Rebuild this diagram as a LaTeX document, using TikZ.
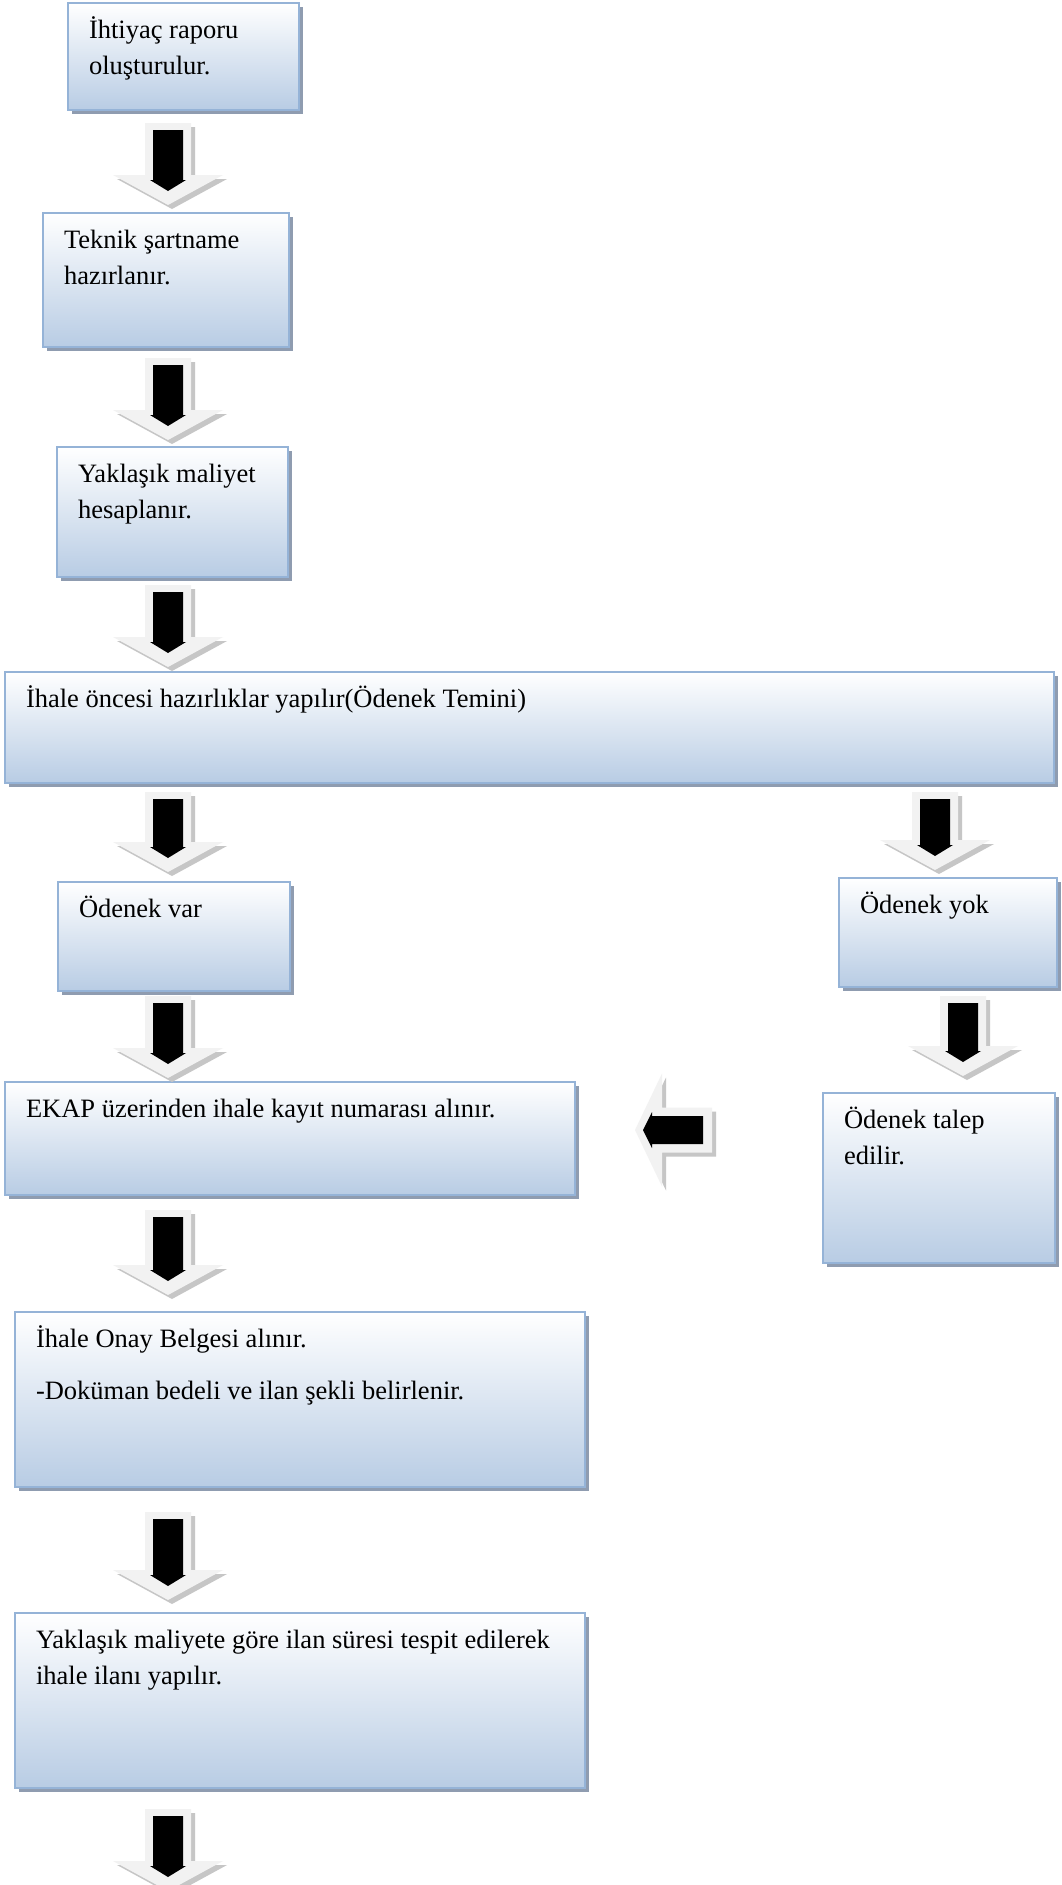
\documentclass[tikz,border=0pt]{standalone}
\usepackage{fontspec}
\setmainfont{Liberation Serif}
\usetikzlibrary{shadows}

\definecolor{boxedge}{RGB}{149,179,215}
\definecolor{boxblue}{RGB}{184,204,228}
\definecolor{boxshadow}{RGB}{143,156,176}
\definecolor{arrlight}{RGB}{242,242,242}
\definecolor{arrshadow}{RGB}{198,198,198}

\newcommand{\steptext}[2]{\makebox[#1][l]{\begin{tabular}[t]{@{}l@{}}#2\end{tabular}}}

\tikzset{
  stepbox/.style={draw=boxedge, line width=2.5pt, top color=white, bottom color=boxblue,
    drop shadow={shadow xshift=4pt, shadow yshift=-4pt, fill=boxshadow, opacity=1},
    inner xsep=21pt, inner ysep=10pt, outer sep=0pt, anchor=north west,
    text height=25pt, font=\fontsize{26.5}{36}\selectfont},
  pics/downarr/.style={code={
    \fill[arrshadow] (-19,4) -- (27,4) -- (27,#1-26) -- (59,#1-26) -- (4,#1+4) -- (-51,#1-26) -- (-19,#1-26) -- cycle;
    \fill[arrlight] (-23,0) -- (23,0) -- (23,#1-30) -- (55,#1-30) -- (0,#1) -- (-55,#1-30) -- (-23,#1-30) -- cycle;
    \fill (-15,7) -- (15,7) -- (15,#1-25) -- (18,#1-25) -- (0,#1-14) -- (-18,#1-25) -- (-15,#1-25) -- cycle;
  }},
  pics/leftarr/.style={code={
    \fill[arrshadow] (4,4) -- (31,-52.5) -- (31,-18.5) -- (81,-18.5) -- (81,26.5) -- (31,26.5) -- (31,60.5) -- cycle;
    \fill[arrlight] (0,0) -- (27,-56.5) -- (27,-22.5) -- (77,-22.5) -- (77,22.5) -- (27,22.5) -- (27,56.5) -- cycle;
    \fill (8,0) -- (17,-18) -- (17,-14) -- (68,-14) -- (68,14) -- (17,14) -- (17,18) -- cycle;
  }}
}

\begin{document}
\begin{tikzpicture}[x=1pt, y=-1pt]
\useasboundingbox (0,0) rectangle (1062,1885);
\fill[white] (0,0) rectangle (1062,1885);
\clip (0,0) rectangle (1062,1885);

% left column
\node[stepbox, text depth=62pt] (ihtiyac) at (68,3) {\steptext{189pt}{İhtiyaç raporu\\oluşturulur.}};
\node[stepbox, text depth=89pt] (teknik) at (43,213) {\steptext{204pt}{Teknik şartname\\hazırlanır.}};
\node[stepbox, text depth=85pt] (maliyet) at (57,447) {\steptext{189pt}{Yaklaşık maliyet\\hesaplanır.}};
\node[stepbox, text depth=66pt] (oncesi) at (5,672) {\steptext{1007pt}{İhale öncesi hazırlıklar yapılır(Ödenek Temini)}};
\node[stepbox, text depth=64pt] (var) at (58,882) {\steptext{190pt}{Ödenek var}};
\node[stepbox, text depth=68pt] (ekap) at (5,1082) {\steptext{528pt}{EKAP üzerinden ihale kayıt numarası alınır.}};
\node[stepbox, text depth=130pt] (onay) at (15,1312) {\steptext{528pt}{İhale Onay Belgesi alınır.\\[16pt]-Doküman bedeli ve ilan şekli belirlenir.}};
\node[stepbox, text depth=130pt] (ilan) at (15,1613) {\steptext{528pt}{Yaklaşık maliyete göre ilan süresi tespit edilerek\\ihale ilanı yapılır.}};

% right column
\node[stepbox, text depth=64pt] (yok) at (839,878) {\steptext{176pt}{Ödenek yok}};
\node[stepbox, text depth=125pt] (talep) at (823,1093) {\steptext{190pt}{Ödenek talep\\edilir.}};

% block arrows
\pic at (168,123) {downarr=82};
\pic at (168,358) {downarr=82};
\pic at (168,585) {downarr=82};
\pic at (168,792) {downarr=80};
\pic at (935,792) {downarr=78};
\pic at (168,996) {downarr=82};
\pic at (963,996) {downarr=80};
\pic at (635,1130) {leftarr};
\pic at (168,1210) {downarr=85};
\pic at (168,1512) {downarr=88};
\pic at (168,1809) {downarr=82};
\end{tikzpicture}
\end{document}
